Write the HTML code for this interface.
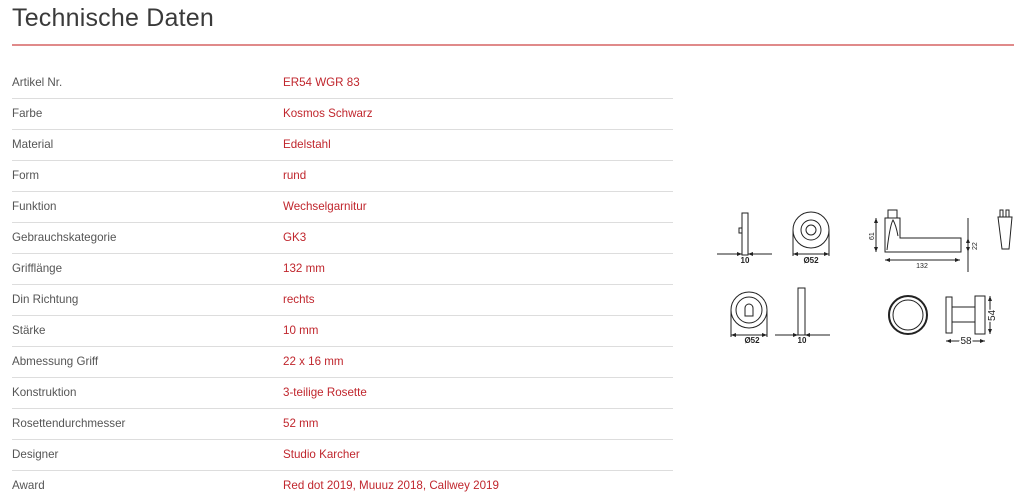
<!DOCTYPE html>
<html><head><meta charset="utf-8"><style>
body{margin:0;width:1024px;height:501px;background:#fff;font-family:"Liberation Sans",sans-serif;overflow:hidden;position:relative}
h1{position:absolute;left:12px;top:4px;margin:0;font-weight:normal;font-size:25px;color:#3a3a3a;letter-spacing:0.2px}
.rl{position:absolute;left:12px;top:44px;width:1002px;height:2px;background:#e08a8a}
.row{position:absolute;left:12px;width:661px;height:31px;border-bottom:1px solid #ddd;font-size:11.6px;color:#555}
.row span{position:absolute;top:9px}
.row .v{left:271px;color:#c0262d}
svg{position:absolute;left:0;top:0}
</style></head><body>
<h1>Technische Daten</h1><div class="rl"></div>
<div class="row" style="top:67px"><span>Artikel Nr.</span><span class="v">ER54 WGR 83</span></div>
<div class="row" style="top:98px"><span>Farbe</span><span class="v">Kosmos Schwarz</span></div>
<div class="row" style="top:129px"><span>Material</span><span class="v">Edelstahl</span></div>
<div class="row" style="top:160px"><span>Form</span><span class="v">rund</span></div>
<div class="row" style="top:191px"><span>Funktion</span><span class="v">Wechselgarnitur</span></div>
<div class="row" style="top:222px"><span>Gebrauchskategorie</span><span class="v">GK3</span></div>
<div class="row" style="top:253px"><span>Grifflänge</span><span class="v">132 mm</span></div>
<div class="row" style="top:284px"><span>Din Richtung</span><span class="v">rechts</span></div>
<div class="row" style="top:315px"><span>Stärke</span><span class="v">10 mm</span></div>
<div class="row" style="top:346px"><span>Abmessung Griff</span><span class="v">22 x 16 mm</span></div>
<div class="row" style="top:377px"><span>Konstruktion</span><span class="v">3-teilige Rosette</span></div>
<div class="row" style="top:408px"><span>Rosettendurchmesser</span><span class="v">52 mm</span></div>
<div class="row" style="top:439px"><span>Designer</span><span class="v">Studio Karcher</span></div>
<div class="row" style="top:470px;border:none"><span>Award</span><span class="v">Red dot 2019, Muuuz 2018, Callwey 2019</span></div>
<svg width="1024" height="501" fill="none" stroke="#222" stroke-width="1" font-family="Liberation Sans" font-size="8">
<defs><marker id="a" viewBox="0 0 10 10" refX="10" refY="5" markerWidth="6" markerHeight="5" orient="auto-start-reverse"><path d="M0 1 L10 5 L0 9 Z" fill="#222" stroke="none"/></marker></defs>
<rect x="742" y="213" width="6" height="42"/><rect x="739" y="228" width="3" height="5"/>
<line x1="717" y1="254" x2="742" y2="254" marker-end="url(#a)"/><line x1="772" y1="254" x2="748" y2="254" marker-end="url(#a)"/>
<text x="745" y="263" fill="#222" stroke="none" text-anchor="middle" font-weight="bold">10</text>
<circle cx="811" cy="230" r="18"/><circle cx="811" cy="230" r="10"/><circle cx="811" cy="230" r="5"/>
<line x1="793" y1="230" x2="793" y2="256"/><line x1="829" y1="230" x2="829" y2="256"/><line x1="793" y1="254" x2="829" y2="254" marker-start="url(#a)" marker-end="url(#a)"/>
<text x="811" y="263" fill="#222" stroke="none" text-anchor="middle" font-weight="bold">Ø52</text>
<path d="M885 218 L900 218 L900 238 L961 238 L961 252 L885 252 Z"/><rect x="888" y="210" width="9" height="8"/>
<path d="M887 250 Q890 225 893 220 Q896 225 898 236"/>
<line x1="876" y1="218" x2="876" y2="252" marker-start="url(#a)" marker-end="url(#a)"/><line x1="968" y1="218" x2="968" y2="272"/>
<line x1="968" y1="238" x2="968" y2="252" marker-start="url(#a)" marker-end="url(#a)"/>
<line x1="885" y1="260" x2="960" y2="260" marker-start="url(#a)" marker-end="url(#a)"/>
<text x="922" y="268" fill="#222" stroke="none" text-anchor="middle" font-size="7">132</text>
<text x="0" y="0" fill="#222" stroke="none" font-size="7" transform="translate(874,240) rotate(-90)">61</text>
<text x="0" y="0" fill="#222" stroke="none" font-size="7" transform="translate(977,250) rotate(-90)">22</text>
<path d="M998 217 L1012 217 L1009 249 L1002 249 Z"/><rect x="1000" y="210" width="3" height="7"/><rect x="1006" y="210" width="3" height="7"/>
<circle cx="749" cy="310" r="18"/><circle cx="749" cy="310" r="13"/>
<path d="M745 316 L745 308 A4 4 0 1 1 753 308 L753 316 Z"/>
<line x1="731" y1="310" x2="731" y2="337"/><line x1="767" y1="310" x2="767" y2="337"/><line x1="731" y1="335" x2="767" y2="335" marker-start="url(#a)" marker-end="url(#a)"/>
<text x="752" y="343" fill="#222" stroke="none" text-anchor="middle" font-weight="bold">Ø52</text>
<rect x="798" y="288" width="7" height="47"/><line x1="775" y1="335" x2="798" y2="335" marker-end="url(#a)"/><line x1="830" y1="335" x2="805" y2="335" marker-end="url(#a)"/>
<text x="802" y="343" fill="#222" stroke="none" text-anchor="middle" font-weight="bold">10</text>
<circle cx="908" cy="315" r="19" stroke-width="2"/><circle cx="908" cy="315" r="15"/>
<rect x="946" y="297" width="6" height="36"/><rect x="952" y="307" width="23" height="15"/><rect x="975" y="296" width="10" height="38"/>
<line x1="990" y1="296" x2="990" y2="334" marker-start="url(#a)" marker-end="url(#a)"/><line x1="946" y1="341" x2="985" y2="341" marker-start="url(#a)" marker-end="url(#a)"/>
<text x="966" y="344" fill="#222" stroke="#fff" stroke-width="3" text-anchor="middle" font-size="10" style="paint-order:stroke">58</text>
<text x="0" y="0" fill="#222" stroke="#fff" stroke-width="3" font-size="10" style="paint-order:stroke" transform="translate(995,321) rotate(-90)">54</text>
</svg>
</body></html>
